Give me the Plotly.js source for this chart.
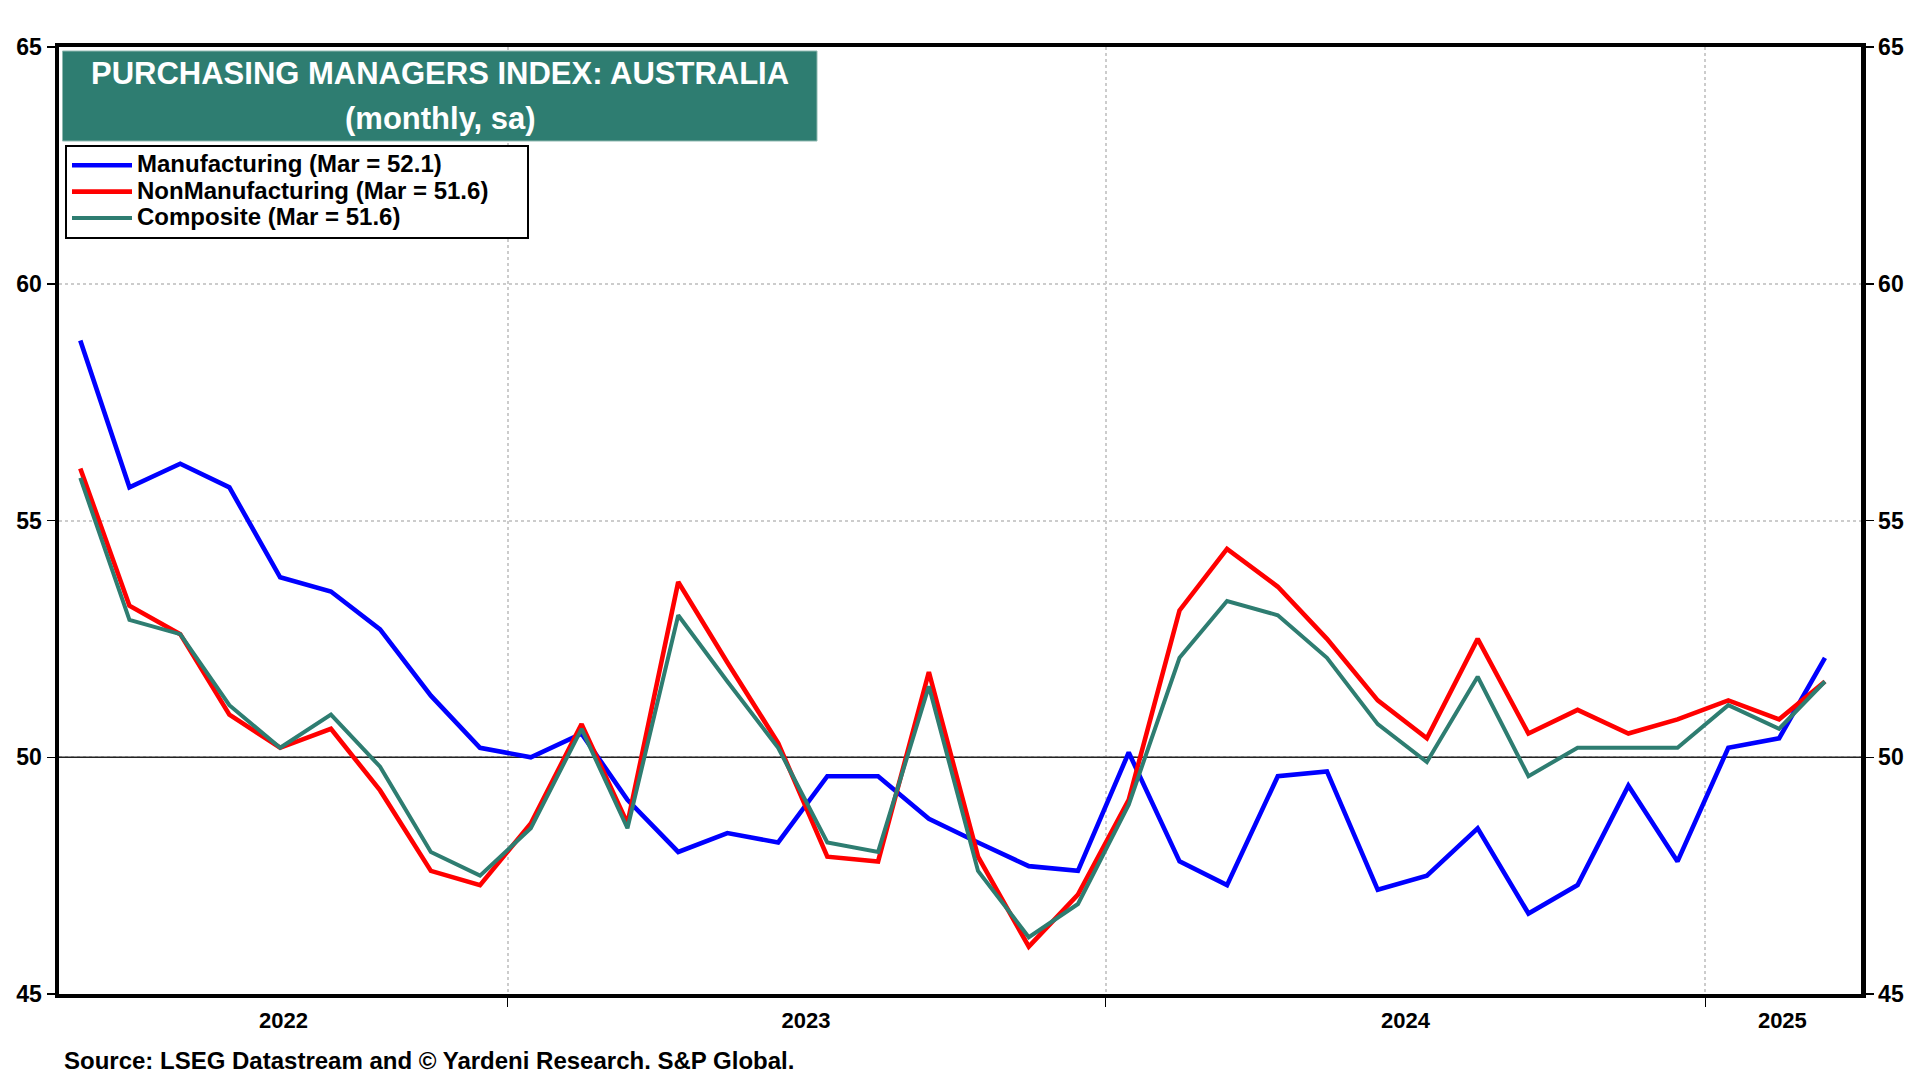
<!DOCTYPE html>
<html>
<head>
<meta charset="utf-8">
<script src="https://cdn.plot.ly/plotly-3.0.1.min.js"></script>
<style>html,body{margin:0;padding:0;background:#fff;}#chart{width:1920px;height:1080px;}</style>
</head>
<body>
<div id="chart"></div>
<script>
const months = [
  '2022-04','2022-05','2022-06','2022-07','2022-08','2022-09','2022-10','2022-11','2022-12',
  '2023-01','2023-02','2023-03','2023-04','2023-05','2023-06','2023-07','2023-08','2023-09','2023-10','2023-11','2023-12',
  '2024-01','2024-02','2024-03','2024-04','2024-05','2024-06','2024-07','2024-08','2024-09','2024-10','2024-11','2024-12',
  '2025-01','2025-02','2025-03'
];
const manufacturing = [
  58.8,55.7,56.2,55.7,53.8,53.5,52.7,51.3,50.2,
  50.0,50.5,49.1,48.0,48.4,48.2,49.6,49.6,48.7,48.2,47.7,47.6,
  50.1,47.8,47.3,49.6,49.7,47.2,47.5,48.5,46.7,47.3,49.4,47.8,
  50.2,50.4,52.1
];
const nonManufacturing = [
  56.1,53.2,52.6,50.9,50.2,50.6,49.3,47.6,47.3,
  48.6,50.7,48.6,53.7,52.0,50.3,47.9,47.8,51.8,47.9,46.0,47.1,
  49.1,53.1,54.4,53.6,52.5,51.2,50.4,52.5,50.5,51.0,50.5,50.8,
  51.2,50.8,51.6
];
const composite = [
  55.9,52.9,52.6,51.1,50.2,50.9,49.8,48.0,47.5,
  48.5,50.6,48.5,53.0,51.6,50.2,48.2,48.0,51.5,47.6,46.2,46.9,
  49.0,52.1,53.3,53.0,52.1,50.7,49.9,51.7,49.6,50.2,50.2,50.2,
  51.1,50.6,51.6
];
const seriesNames = ['Manufacturing (Mar = 52.1)','NonManufacturing (Mar = 51.6)','Composite (Mar = 51.6)'];
const yearLabels = ['2022','2023','2024','2025'];
const yearBoundaries = ['2023-01-01','2024-01-01','2025-01-01'];
const xRange = ['2022-04-02','2025-04-06'];
const yTicks = [45,50,55,60,65];
const referenceLevel = 50;

const dates = months.map(m => m + '-15');

// label positions: centre of each year's visible span
const r0 = new Date(xRange[0]).getTime(), r1 = new Date(xRange[1]).getTime();
const labelVals = yearLabels.map(y => {
  const a = Math.max(r0, new Date(y + '-01-01').getTime());
  const b = Math.min(r1, new Date((+y + 1) + '-01-01').getTime());
  return new Date((a + b) / 2).toISOString().slice(0, 10);
});

const FONT = 'Liberation Sans, Arial, Helvetica, sans-serif';
const TEAL = '#2E7D71';
const legendName = (s, pad) => '<span style="font-size:24px">' + s + '\u00A0'.repeat(pad || 0) + '</span>';

const traces = [
  {x: dates, y: manufacturing, name: legendName(seriesNames[0]), type: 'scatter', mode: 'lines',
   line: {color: '#0000FF', width: 4.6}},
  {x: dates, y: nonManufacturing, name: legendName(seriesNames[1], 5), type: 'scatter', mode: 'lines',
   line: {color: '#FF0000', width: 4.6}},
  {x: dates, y: composite, name: legendName(seriesNames[2]), type: 'scatter', mode: 'lines',
   yaxis: 'y2', line: {color: TEAL, width: 4}}
];

const L = 59, R = 59, T = 47, B = 86, W = 1920, H = 1080;
const pw = W - L - R, ph = H - T - B;
const px = v => (v - L) / pw;           // pixel x -> paper
const py = v => (H - B - v) / ph;       // pixel y -> paper

const yAxisCommon = {
  range: [45, 65], tickmode: 'array', tickvals: yTicks, ticks: 'outside', ticklen: 8, tickwidth: 1.5, tickcolor: '#000',
  showline: true, linewidth: 4.5, linecolor: '#000',
  tickfont: {family: FONT, size: 23, color: '#000', weight: 'bold'},
  zeroline: false, fixedrange: true
};

const layout = {
  width: W, height: H,
  margin: {l: L, r: R, t: T, b: B},
  paper_bgcolor: '#fff', plot_bgcolor: '#fff',
  showlegend: true,
  legend: {
    x: px(65), y: py(145), xanchor: 'left', yanchor: 'top',
    bgcolor: '#fff', bordercolor: '#000', borderwidth: 2, itemwidth: 60,
    font: {family: FONT, size: 18, color: '#000', weight: 'bold'}
  },
  xaxis: {
    type: 'date', range: xRange,
    tickmode: 'array', tickvals: labelVals, ticktext: yearLabels,
    ticks: 'outside', ticklen: 4, tickcolor: 'rgba(0,0,0,0)',
    showgrid: false, showline: true, linewidth: 4, linecolor: '#000', mirror: true,
    tickfont: {family: FONT, size: 22, color: '#000', weight: 'bold'},
    minor: {
      tickmode: 'array', tickvals: yearBoundaries,
      ticks: 'outside', ticklen: 9, tickwidth: 1.2, tickcolor: '#000',
      showgrid: true, gridcolor: '#cccccc', gridwidth: 2, griddash: 'dot'
    },
    zeroline: false, fixedrange: true
  },
  yaxis: Object.assign({}, yAxisCommon, {
    side: 'left', showgrid: true, gridcolor: '#cccccc', gridwidth: 2, griddash: 'dot'
  }),
  yaxis2: Object.assign({}, yAxisCommon, {
    side: 'right', overlaying: 'y', anchor: 'x', showgrid: false
  }),
  shapes: [
    {type: 'line', xref: 'x', x0: xRange[0], x1: xRange[1], yref: 'y', y0: referenceLevel, y1: referenceLevel,
     line: {color: '#222', width: 1.5}, layer: 'between'},
    {type: 'rect', xref: 'paper', yref: 'paper',
     x0: px(62.5), x1: px(817), y0: py(141), y1: py(51),
     fillcolor: TEAL, line: {color: '#8fb9b1', width: 1}, layer: 'above'}
  ],
  annotations: [
    {xref: 'paper', yref: 'paper', x: px(440), y: py(73), xanchor: 'center', yanchor: 'middle',
     text: 'PURCHASING MANAGERS INDEX: AUSTRALIA', showarrow: false,
     font: {family: FONT, size: 31, color: '#fff', weight: 'bold'}},
    {xref: 'paper', yref: 'paper', x: px(440), y: py(118), xanchor: 'center', yanchor: 'middle',
     text: '(monthly, sa)', showarrow: false,
     font: {family: FONT, size: 31, color: '#fff', weight: 'bold'}},
    {xref: 'paper', yref: 'paper', x: px(62), y: py(1060), xanchor: 'left', yanchor: 'middle',
     text: 'Source: LSEG Datastream and © Yardeni Research. S&amp;P Global.', showarrow: false,
     font: {family: FONT, size: 24, color: '#000', weight: 'bold'}}
  ]
};

Plotly.newPlot('chart', traces, layout, {staticPlot: true, displayModeBar: false});
</script>
</body>
</html>
